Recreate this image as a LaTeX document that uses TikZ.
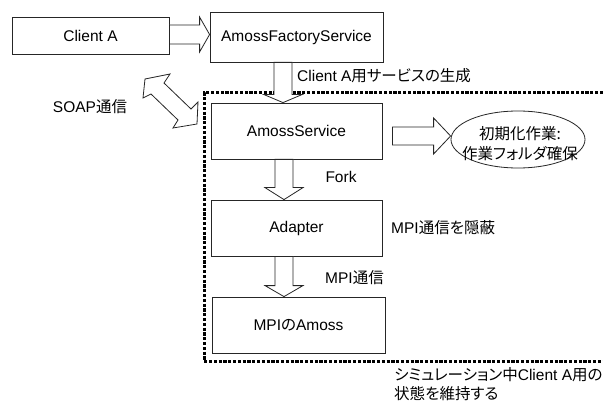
\documentclass[tikz,border=0pt]{standalone}
\usepackage{fontspec}
\setmainfont{Liberation Sans}
\newfontfamily\jp[RawFeature=+palt]{Noto Sans CJK JP}
\usetikzlibrary{calc,shapes.geometric}
\newcommand\J[1]{{\jp #1}}
% hollow block arrow pointing down: #1 start, #2 tip, #3 shaft half, #4 head half, #5 head length
\newcommand\varrowD[5]{\draw[blk] ($(#1)+(-#3,0)$) -- ($(#2)+(-#3,-#5)$) -- ($(#2)+(-#4,-#5)$) -- (#2) -- ($(#2)+(#4,-#5)$) -- ($(#2)+(#3,-#5)$) -- ($(#1)+(#3,0)$) -- cycle;}
% hollow block arrow pointing right
\newcommand\harrowR[5]{\draw[blk] ($(#1)+(0,-#3)$) -- ($(#2)+(-#5,-#3)$) -- ($(#2)+(-#5,-#4)$) -- (#2) -- ($(#2)+(-#5,#4)$) -- ($(#2)+(-#5,#3)$) -- ($(#1)+(0,#3)$) -- cycle;}
\begin{document}
\begin{tikzpicture}[x=1pt,y=-1pt,
  font=\fontsize{15.5}{19}\selectfont,
  box/.style={draw=black!85, line width=0.8pt, rectangle, inner sep=0pt},
  blk/.style={draw=black!85, line width=0.8pt, fill=white, line join=miter},
  lbl/.style={inner sep=0pt, anchor=west},
  frame/.style={line width=3pt, dash pattern=on 3.2pt off 1.6pt}]
\useasboundingbox (0,0) rectangle (603,401);
\fill[white] (0,0) rectangle (603,401);

% dotted frame
\draw[frame] (603,93) -- (204,93) -- (204,361) -- (603,361);

% boxes
\node[box, minimum width=157, minimum height=37] (ca) at (90.5,35.5) {Client A};
\node[box, minimum width=173, minimum height=50] (fs) at (296.5,37) {AmossFactoryService};
\node[box, minimum width=171, minimum height=56, fill=white] (as) at (296.5,131) {AmossService};
\node[box, minimum width=171, minimum height=56, fill=white] (ad) at (296.5,228) {Adapter};
\node[box, minimum width=173, minimum height=56, fill=white] (ma) at (298.5,325) {MPI\J{の}Amoss};
\node[draw=black!85, line width=0.8pt, ellipse, minimum width=134, minimum height=57, inner sep=0pt] (el) at (518,139.5) {};
\node[align=center, inner sep=0pt, font=\fontsize{15.5}{19.5}\selectfont] (elt) at ($(el.center)+(2,4)$) {\J{初期化作業:}\\\J{作業フォルダ確保}};

% arrows
\coordinate (h1s) at ($(ca.east)+(0,-1)$);
\coordinate (h1t) at (h1s -| fs.west);
\harrowR{h1s}{h1t}{9.5}{17.5}{10}

\coordinate (v1s) at ($(fs.south)+(-13.5,0)$);
\coordinate (v1t) at (v1s |- as.north);
\varrowD{v1s}{v1t}{9}{19}{8}

\coordinate (v2s) at ($(as.south)+(-12.5,0)$);
\coordinate (v2t) at (v2s |- ad.north);
\varrowD{v2s}{v2t}{9}{19}{12}

\coordinate (v3s) at ($(ad.south)+(-12.5,0)$);
\coordinate (v3t) at (v3s |- ma.north);
\varrowD{v3s}{v3t}{9}{19}{11}

\coordinate (h2s) at ($(as.east)+(10,5)$);
\coordinate (h2t) at (h2s -| el.west);
\harrowR{h2s}{h2t}{9}{18}{17}

% SOAP double arrow
\draw[blk] (145,79) -- (170,74) -- (164,83) -- (191,109) -- (198,102) -- (197,124)
  -- (173,128) -- (178,120) -- (151,94) -- (143,98) -- cycle;

% labels
\node[lbl] (l1) at (297,76) {Client A\J{用サービスの生成}};
\node[inner sep=0pt] (l2) at (90,107) {SOAP\J{通信}};
\node[inner sep=0pt] (l3) at (341,177) {Fork};
\node[lbl] (l4) at (391,228) {MPI\J{通信を隠蔽}};
\node[lbl] (l5) at (325,278) {MPI\J{通信}};
\node[lbl, align=left] (l6) at (394,384.5) {\J{シミュレーション中}Client A\J{用の}\\\J{状態を維持する}};
\end{tikzpicture}
\end{document}
